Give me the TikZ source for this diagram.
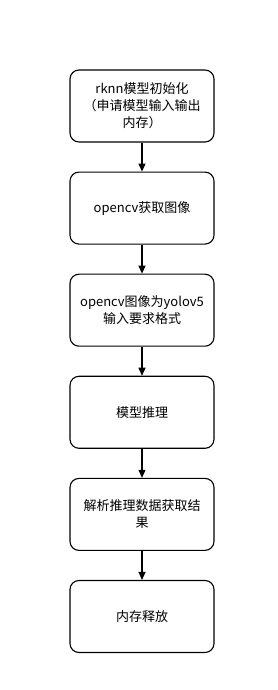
\documentclass[tikz,border=0pt]{standalone}
\usepackage{fontspec}
\setmainfont{Noto Sans CJK SC}
\usepackage{tikz}
\usetikzlibrary{arrows.meta, positioning}
\tikzset{
  stepbox/.style = {draw, rounded corners=9pt, align=center, font=\fontsize{13pt}{17pt}\selectfont,
                    minimum width=144pt, minimum height=72pt, text width=142pt,
                    inner sep=1pt, line width=1.1pt},
  fl/.style      = {-{Triangle[length=8pt, width=7pt]}, line width=1.1pt},
}
\begin{document}
\begin{tikzpicture}[node distance=29pt, x=1pt, y=1pt]
  \useasboundingbox[fill=white] (0,0) rectangle (278,690);
  \node[stepbox] (init) at (142,584) {rknn模型初始化\\（申请模型输入输出\\内存）};
  \node[stepbox, below=of init] (grab) {opencv获取图像};
  \node[stepbox, below=of grab] (conv) {opencv图像为yolov5\\输入要求格式};
  \node[stepbox, below=of conv] (infer) {模型推理};
  \node[stepbox, below=of infer] (parse) {解析推理数据获取结\\果};
  \node[stepbox, below=of parse] (free) {内存释放};
  \draw[fl] (init) -- (grab);
  \draw[fl] (grab) -- (conv);
  \draw[fl] (conv) -- (infer);
  \draw[fl] (infer) -- (parse);
  \draw[fl] (parse) -- (free);
\end{tikzpicture}
\end{document}
